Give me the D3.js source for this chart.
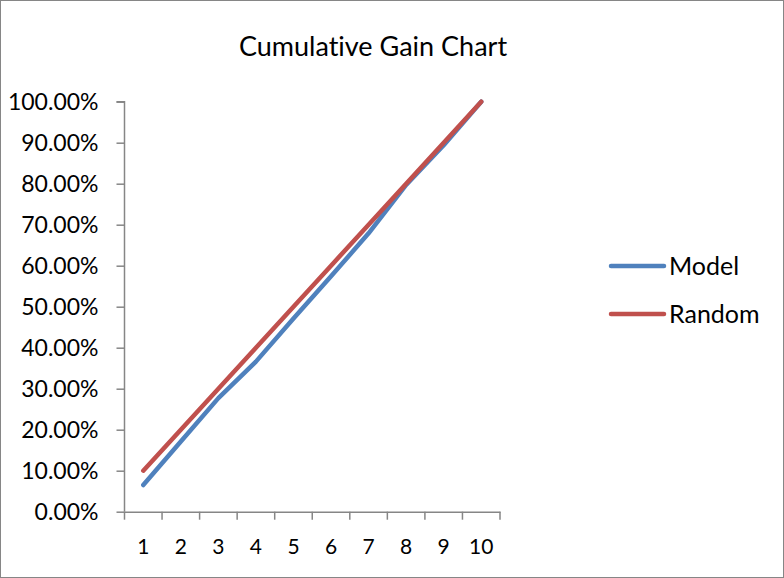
<!DOCTYPE html>
<html><head><meta charset="utf-8">
<script src="https://cdn.jsdelivr.net/npm/d3@7"></script>
<style>html,body{margin:0;padding:0;background:#fff;}svg{display:block;}text{font-variant-ligatures:none;font-feature-settings:"liga" 0;}</style>
</head><body>
<script>
const categories = ["1","2","3","4","5","6","7","8","9","10"];
const modelValues = [0.065, 0.171, 0.277, 0.366, 0.471, 0.574, 0.679, 0.797, 0.894, 1.0];
const randomValues = [0.1, 0.2, 0.3, 0.4, 0.5, 0.6, 0.7, 0.8, 0.9, 1.0];
const yTicks = [0, 0.1, 0.2, 0.3, 0.4, 0.5, 0.6, 0.7, 0.8, 0.9, 1.0];
const seriesNames = ["Model", "Random"];
const seriesColors = ["#4F81BD", "#C0504D"];

const W = 784, H = 578;
const font = "Lato, 'Open Sans', sans-serif";
const svg = d3.select("body").append("svg").attr("width", W).attr("height", H);
svg.append("rect").attr("x", 0.5).attr("y", 0.5).attr("width", W - 1).attr("height", H - 1)
  .attr("fill", "#fff").attr("stroke", "#868686").attr("stroke-width", 1);

const x = d3.scaleBand().domain(categories).range([124.5, 500]);
const y = d3.scaleLinear().domain([0, 1]).range([511.7, 101.7]);

svg.append("text").attr("x", 373).attr("y", 56).attr("text-anchor", "middle")
  .attr("font-family", font).attr("font-size", 27).attr("fill", "#000").text("Cumulative Gain Chart");

const yAxis = d3.axisLeft(y).tickValues(yTicks).tickSize(8).tickFormat(d3.format(".2%"));
const gy = svg.append("g").attr("transform", "translate(124.5,0)").call(yAxis);
gy.selectAll("path,line").attr("stroke", "#868686").attr("stroke-width", 1.5);
gy.select(".domain").attr("d", `M-8,${y(1)}H0V${y(0)}`);
gy.selectAll("text").attr("font-family", font).attr("font-size", 23).attr("fill", "#000").attr("x", -26).attr("dy", "0.36em");

const xAxis = d3.axisBottom(x).tickSize(0).tickPadding(27);
const gx = svg.append("g").attr("transform", `translate(0,${y(0)})`).call(xAxis);
gx.select(".domain").attr("stroke", "#868686").attr("stroke-width", 1.5);
gx.selectAll("text").attr("font-family", font).attr("font-size", 21).attr("fill", "#000");
const bounds = categories.map(c => x(c)).concat([x(categories[categories.length - 1]) + x.bandwidth()]);
gx.selectAll("line.bt").data(bounds).enter().append("line").attr("class", "bt")
  .attr("x1", d => d).attr("x2", d => d).attr("y1", 0).attr("y2", 8)
  .attr("stroke", "#868686").attr("stroke-width", 1.5);

const series = [modelValues, randomValues];
const line = d3.line().x((d, i) => x(categories[i]) + x.bandwidth() / 2).y(d => y(d));
series.forEach((vals, k) => {
  svg.append("path").datum(vals).attr("d", line).attr("fill", "none")
    .attr("stroke", seriesColors[k]).attr("stroke-width", 4.5)
    .attr("stroke-linecap", "round").attr("stroke-linejoin", "round");
});

const legY = [266, 314];
seriesNames.forEach((n, k) => {
  svg.append("line").attr("x1", 611).attr("x2", 664).attr("y1", legY[k]).attr("y2", legY[k])
    .attr("stroke", seriesColors[k]).attr("stroke-width", 4.5).attr("stroke-linecap", "round");
  svg.append("text").attr("x", 669).attr("y", legY[k]).attr("dy", "0.36em")
    .attr("font-family", font).attr("font-size", 25).attr("fill", "#000").text(n);
});
</script>
</body></html>
